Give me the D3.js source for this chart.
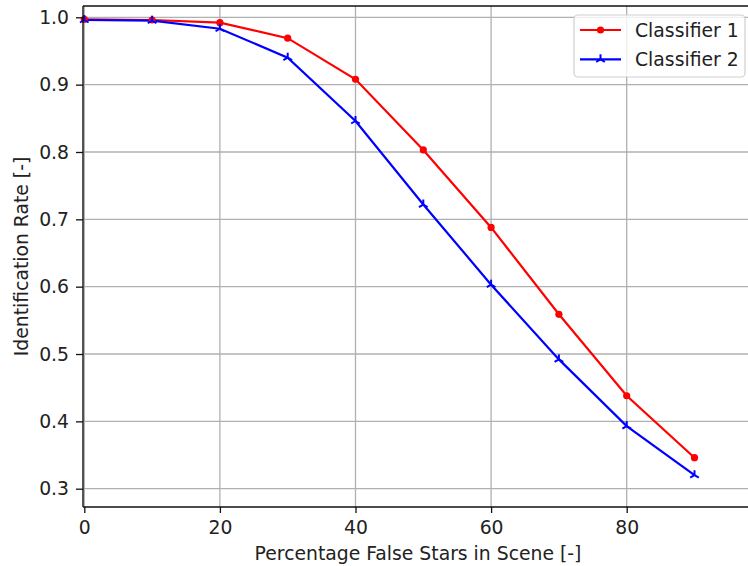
<!DOCTYPE html>
<html>
<head>
<meta charset="utf-8">
<script src="https://cdn.jsdelivr.net/npm/d3@7"></script>
<style>
  html, body { margin: 0; padding: 0; background: #fff; }
  svg { display: block; }
  text { font-family: "DejaVu Sans", sans-serif; fill: #222; }
</style>
</head>
<body>
<svg id="chart" width="748" height="566"></svg>
<script>
const xValues = [0, 10, 20, 30, 40, 50, 60, 70, 80, 90];
const classifier1 = [0.997, 0.996, 0.992, 0.969, 0.908, 0.803, 0.688, 0.559, 0.438, 0.346];
const classifier2 = [0.996, 0.995, 0.983, 0.940, 0.846, 0.722, 0.603, 0.492, 0.393, 0.320];
const seriesNames = ["Classifier 1", "Classifier 2"];
const xTicks = [0, 20, 40, 60, 80];
const yTicks = [0.3, 0.4, 0.5, 0.6, 0.7, 0.8, 0.9, 1.0];

const svg = d3.select("#chart");
const plot = { left: 83, right: 750, top: 6, bottom: 507 };

const x = d3.scaleLinear().domain([0, 90]).range([84.3, 694.5]);
const y = d3.scaleLinear().domain([0.3, 1.0]).range([488.7, 17.3]);

const fontSize = 18.8;

// grid
const grid = svg.append("g");
grid.selectAll(".gx").data(xTicks).enter().append("line")
  .attr("x1", d => x(d)).attr("x2", d => x(d))
  .attr("y1", plot.top).attr("y2", plot.bottom)
  .attr("stroke", "#b0b0b0").attr("stroke-width", 1.3);
grid.selectAll(".gy").data(yTicks).enter().append("line")
  .attr("x1", plot.left).attr("x2", plot.right)
  .attr("y1", d => y(d)).attr("y2", d => y(d))
  .attr("stroke", "#b0b0b0").attr("stroke-width", 1.3);

// lines
const line = d3.line().x(d => x(d[0])).y(d => y(d[1]));
const s1 = xValues.map((v, i) => [v, classifier1[i]]);
const s2 = xValues.map((v, i) => [v, classifier2[i]]);

svg.append("path").datum(s1).attr("d", line)
  .attr("fill", "none").attr("stroke", "#ff0000").attr("stroke-width", 2.2);
svg.append("path").datum(s2).attr("d", line)
  .attr("fill", "none").attr("stroke", "#0000ff").attr("stroke-width", 2.2);

function triUp(g, cx, cy, r, color) {
  const pts = [[0, -r], [-r * 0.866, r * 0.5], [r * 0.866, r * 0.5]];
  pts.forEach(p => {
    g.append("line").attr("x1", cx).attr("y1", cy)
      .attr("x2", cx + p[0]).attr("y2", cy + p[1])
      .attr("stroke", color).attr("stroke-width", 2);
  });
}

svg.append("g").selectAll("circle").data(s1).enter().append("circle")
  .attr("cx", d => x(d[0])).attr("cy", d => y(d[1])).attr("r", 3.6)
  .attr("fill", "#ff0000");
const m2 = svg.append("g");
s2.forEach(d => triUp(m2, x(d[0]), y(d[1]), 5, "#0000ff"));

// spines
svg.append("line").attr("x1", plot.left).attr("x2", plot.left)
  .attr("y1", plot.top).attr("y2", plot.bottom).attr("stroke", "#111").attr("stroke-width", 1.4);
svg.append("line").attr("x1", plot.left).attr("x2", plot.right)
  .attr("y1", plot.bottom).attr("y2", plot.bottom).attr("stroke", "#111").attr("stroke-width", 1.4);
svg.append("line").attr("x1", plot.left).attr("x2", plot.right)
  .attr("y1", plot.top).attr("y2", plot.top).attr("stroke", "#111").attr("stroke-width", 1.4);

// axes
const xAxis = d3.axisBottom(x).tickValues(xTicks).tickSize(6).tickPadding(8).tickFormat(d3.format("d"));
const gx = svg.append("g").attr("transform", `translate(0,${plot.bottom})`).call(xAxis);
gx.select(".domain").remove();
gx.selectAll(".tick line").attr("stroke", "#111").attr("stroke-width", 1.3);
gx.selectAll(".tick text").attr("font-size", fontSize).attr("font-family", "DejaVu Sans").attr("fill", "#222");

const yAxis = d3.axisLeft(y).tickValues(yTicks).tickSize(7).tickPadding(7).tickFormat(d3.format(".1f"));
const gy = svg.append("g").attr("transform", `translate(${plot.left},0)`).call(yAxis);
gy.select(".domain").remove();
gy.selectAll(".tick line").attr("stroke", "#111").attr("stroke-width", 1.3);
gy.selectAll(".tick text").attr("font-size", fontSize).attr("font-family", "DejaVu Sans").attr("fill", "#222");

// axis labels
svg.append("text").attr("x", 418).attr("y", 560).attr("text-anchor", "middle")
  .attr("font-size", fontSize).text("Percentage False Stars in Scene [-]");
svg.append("text").attr("transform", "translate(28,256.5) rotate(-90)")
  .attr("text-anchor", "middle").attr("font-size", fontSize).text("Identification Rate [-]");

// legend
const lg = svg.append("g");
lg.append("rect").attr("x", 574).attr("y", 15).attr("width", 171).attr("height", 62)
  .attr("rx", 4).attr("fill", "#fff").attr("fill-opacity", 0.8)
  .attr("stroke", "#d0d0d0").attr("stroke-width", 1.2);
const colors = ["#ff0000", "#0000ff"];
const rowY = [30, 59.3];
seriesNames.forEach((name, i) => {
  lg.append("line").attr("x1", 580).attr("x2", 621).attr("y1", rowY[i]).attr("y2", rowY[i])
    .attr("stroke", colors[i]).attr("stroke-width", 2.2);
  if (i === 0) {
    lg.append("circle").attr("cx", 600.5).attr("cy", rowY[i]).attr("r", 3.6).attr("fill", colors[i]);
  } else {
    triUp(lg, 600.5, rowY[i], 5, colors[i]);
  }
  lg.append("text").attr("x", 635).attr("y", rowY[i]).attr("dy", "0.35em")
    .attr("font-size", fontSize).text(name);
});
</script>
</body>
</html>
